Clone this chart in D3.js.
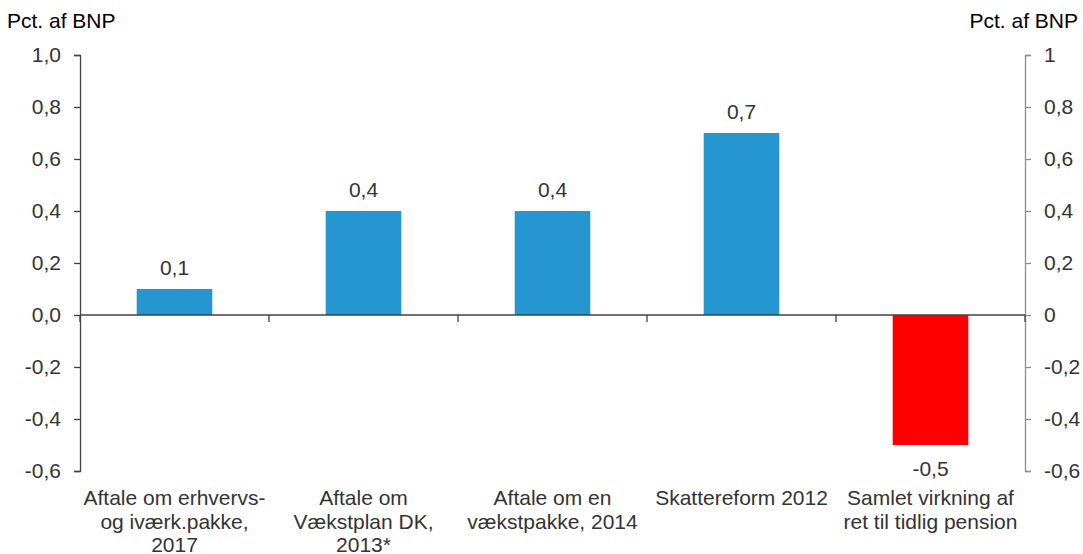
<!DOCTYPE html>
<html>
<head>
<meta charset="utf-8">
<script src="https://cdn.jsdelivr.net/npm/d3@7"></script>
<style>
  body { margin: 0; background: #fff; }
  text { font-family: "Liberation Sans", Arial, sans-serif; }
</style>
</head>
<body>
<script>
// Data
const categories = [
  ["Aftale om erhvervs-", "og iværk.pakke,", "2017"],
  ["Aftale om", "Vækstplan DK,", "2013*"],
  ["Aftale om en", "vækstpakke, 2014"],
  ["Skattereform 2012"],
  ["Samlet virkning af", "ret til tidlig pension"]
];
const values = [0.1, 0.4, 0.4, 0.7, -0.5];
const valueLabels = ["0,1", "0,4", "0,4", "0,7", "-0,5"];
const yTicks = [1.0, 0.8, 0.6, 0.4, 0.2, 0, -0.2, -0.4, -0.6];
const leftTickLabels = ["1,0", "0,8", "0,6", "0,4", "0,2", "0,0", "-0,2", "-0,4", "-0,6"];
const rightTickLabels = ["1", "0,8", "0,6", "0,4", "0,2", "0", "-0,2", "-0,4", "-0,6"];

const W = 1083, H = 554;
const margin = { top: 55, right: 58, bottom: 83, left: 80 };
const width = W - margin.left - margin.right,
      height = H - margin.top - margin.bottom;
const fs = 21;

const svg = d3.select("body").append("svg")
  .attr("width", W).attr("height", H);

const g = svg.append("g")
  .attr("transform", "translate(" + margin.left + "," + margin.top + ")");

const x = d3.scaleBand()
  .domain(d3.range(values.length))
  .range([0, width])
  .paddingInner(0.6).paddingOuter(0.3);

const xb = d3.scaleBand().domain(d3.range(values.length)).range([0, width]);

const y = d3.scaleLinear().domain([-0.6, 1.0]).range([height, 0]);

const textColor = "#333";

// left axis
const leftAx = g.append("g")
  .call(d3.axisLeft(y).tickValues(yTicks).tickSize(6).tickPadding(13)
    .tickFormat((d, i) => leftTickLabels[i]));
leftAx.select(".domain").attr("stroke", "#404040").attr("stroke-width", 1.3);
leftAx.selectAll(".tick line").attr("stroke", "#404040").attr("stroke-width", 1.3);
leftAx.selectAll("text").attr("font-size", fs).attr("fill", textColor);

// right axis
const rightAx = g.append("g")
  .attr("transform", "translate(" + width + ",0)")
  .call(d3.axisRight(y).tickValues(yTicks).tickSize(6).tickPadding(13)
    .tickFormat((d, i) => rightTickLabels[i]));
rightAx.select(".domain").attr("stroke", "#8c8c8c").attr("stroke-width", 1.3);
rightAx.selectAll(".tick line").attr("stroke", "#8c8c8c").attr("stroke-width", 1.3);
rightAx.selectAll("text").attr("font-size", fs).attr("fill", textColor);

// bars
g.selectAll(".bar")
  .data(values)
  .enter().append("rect")
  .attr("x", (d, i) => x(i))
  .attr("width", x.bandwidth())
  .attr("y", d => y(Math.max(0, d)))
  .attr("height", d => Math.abs(y(d) - y(0)))
  .attr("fill", d => d < 0 ? "#ff0000" : "#2596cf");

// zero line with category ticks
g.append("line")
  .attr("x1", 0).attr("x2", width)
  .attr("y1", y(0)).attr("y2", y(0))
  .attr("stroke", "#404040").attr("stroke-width", 1.3);
g.selectAll(".ctick")
  .data(d3.range(values.length + 1))
  .enter().append("line")
  .attr("x1", i => i < values.length ? xb(i) : width)
  .attr("x2", i => i < values.length ? xb(i) : width)
  .attr("y1", y(0)).attr("y2", y(0) + 7)
  .attr("stroke", "#404040").attr("stroke-width", 1.3);

// value labels
g.selectAll(".vlab")
  .data(values)
  .enter().append("text")
  .attr("x", (d, i) => x(i) + x.bandwidth() / 2)
  .attr("y", d => d >= 0 ? y(d) - 14 : y(d) + 31)
  .attr("text-anchor", "middle")
  .attr("font-size", fs).attr("fill", textColor)
  .text((d, i) => valueLabels[i]);

// category labels
const cat = g.selectAll(".cat")
  .data(categories)
  .enter().append("text")
  .attr("text-anchor", "middle")
  .attr("font-size", fs).attr("fill", textColor)
  .attr("transform", (d, i) => "translate(" + (xb(i) + xb.bandwidth() / 2) + "," + (height + 34) + ")");
cat.selectAll("tspan")
  .data(d => d)
  .enter().append("tspan")
  .attr("x", 0)
  .attr("y", (d, i) => i * 23.5)
  .text(d => d);

// axis titles
svg.append("text").attr("x", 7).attr("y", 28)
  .attr("font-size", fs).attr("fill", "#000").text("Pct. af BNP");
svg.append("text").attr("x", 1078).attr("y", 28).attr("text-anchor", "end")
  .attr("font-size", fs).attr("fill", "#000").text("Pct. af BNP");
</script>
</body>
</html>
